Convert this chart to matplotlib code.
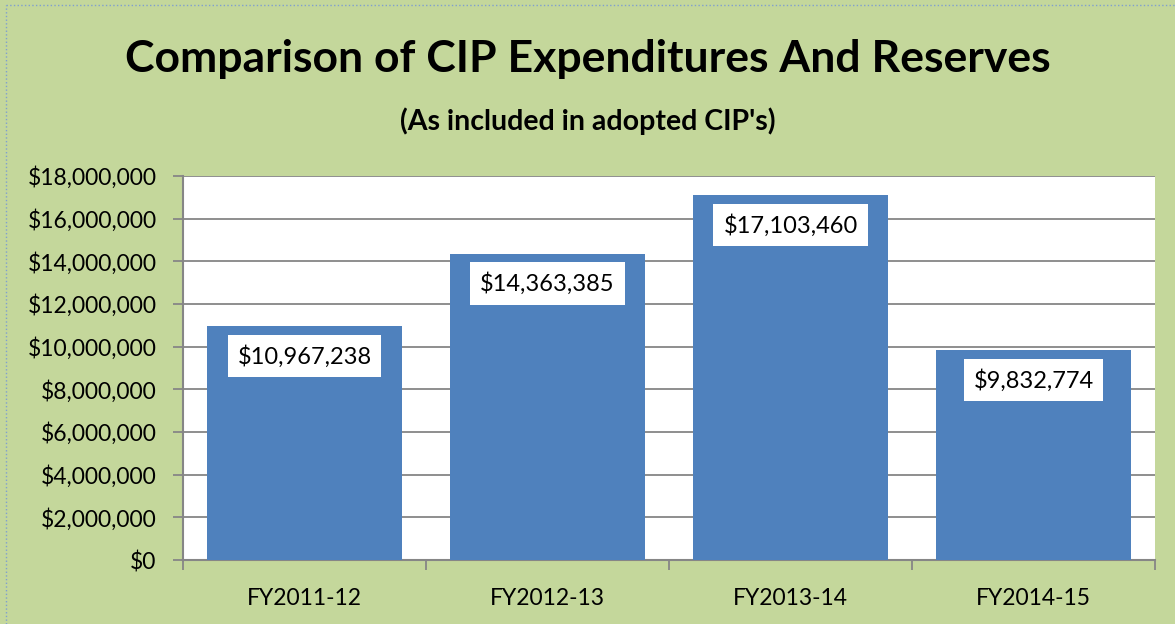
import matplotlib
matplotlib.use("Agg")
from matplotlib import pyplot as plt
from matplotlib.ticker import FuncFormatter, FixedLocator
import numpy as np

years = ["FY2011-12", "FY2012-13", "FY2013-14", "FY2014-15"]
amounts = [10967238, 14363385, 17103460, 9832774]

green = "#C4D79B"
blue = "#4F81BD"
grid_gray = "#868686"

plt.rcParams['font.family'] = ['Lato', 'DejaVu Sans']

fig = plt.figure(figsize=(11.75, 6.24), dpi=100, facecolor=green)
ax = fig.add_axes([183 / 1175, 64 / 624, 972 / 1175, 384 / 624])
ax.set_facecolor("white")

x = np.arange(len(years))
bars = ax.bar(x, amounts, width=0.8, color=blue, zorder=3)

ax.set_xlim(-0.5, len(years) - 0.5)
ax.set_ylim(0, 18000000)
ax.set_yticks(np.arange(0, 18000001, 2000000))
ax.yaxis.set_major_formatter(FuncFormatter(lambda v, p: "${:,.0f}".format(v)))
ax.grid(axis="y", color=grid_gray, linewidth=1.3, zorder=0)

# category labels centred, tick marks on the boundaries
ax.set_xticks(x)
ax.set_xticklabels(years)
ax.xaxis.set_minor_locator(FixedLocator(np.arange(-0.5, len(years), 1)))
ax.tick_params(axis="x", which="major", length=0, pad=20, labelsize=16.5)
ax.tick_params(axis="x", which="minor", length=7, color=grid_gray, width=1.3)
ax.tick_params(axis="y", length=7, color=grid_gray, width=1.3, labelsize=16.5, pad=12)

for s in ["top", "right"]:
    ax.spines[s].set_visible(False)
for s in ["left", "bottom"]:
    ax.spines[s].set_color(grid_gray)
    ax.spines[s].set_linewidth(1.5)

# value labels in white boxes near the top of each bar
for xi, val in zip(x, amounts):
    ax.annotate("${:,}".format(val), (xi, val), xytext=(0, -30),
                textcoords="offset pixels",
                ha="center", va="center", fontsize=17, zorder=4,
                bbox=dict(boxstyle="square,pad=0.42", fc="white", ec="none"))

fig.text(0.5, 1 - 59 / 624, "Comparison of CIP Expenditures And Reserves",
         ha="center", va="center", fontsize=32, fontweight="bold")
fig.text(0.5, 1 - 121 / 624, "(As included in adopted CIP's)",
         ha="center", va="center", fontsize=20.5, fontweight="bold")

# dotted frame on the left/top edges
fig.add_artist(plt.Line2D([6 / 1175, 6 / 1175], [0, 1 - 5 / 624], color="#7F9FCF",
                          linestyle=":", linewidth=1, transform=fig.transFigure))
fig.add_artist(plt.Line2D([6 / 1175, 1], [1 - 5 / 624, 1 - 5 / 624], color="#7F9FCF",
                          linestyle=":", linewidth=1, transform=fig.transFigure))

fig.savefig("out.png", dpi=100, facecolor=green)
